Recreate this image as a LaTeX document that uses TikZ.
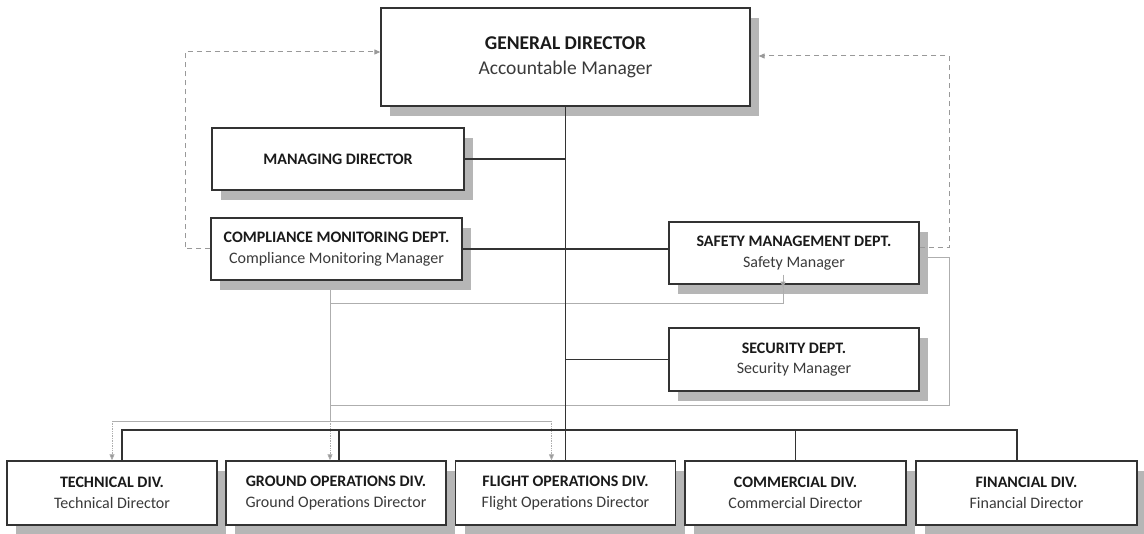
\documentclass[tikz,border=0pt]{standalone}
\usepackage{fontspec}
\setmainfont{Carlito}
\usetikzlibrary{arrows.meta,shadows,calc}
\pgfdeclarelayer{background}
\pgfsetlayers{background,main}
\definecolor{boxc}{HTML}{333333}
\definecolor{shadowc}{HTML}{B6B6B6}
\definecolor{linec}{HTML}{AEAEAE}
\definecolor{dashc}{HTML}{999999}
\definecolor{titlec}{HTML}{1A1A1A}
\definecolor{subc}{HTML}{3A3A3A}
\tikzset{
  box/.style={draw=boxc, line width=1.3pt, fill=white, align=center, inner sep=0pt,
    text=titlec, font=\fontsize{16}{20.5}\selectfont,
    general shadow={fill=shadowc, shadow xshift=9pt, shadow yshift=-10pt}},
  conn/.style={draw=boxc, line width=1.3pt},
  thinline/.style={draw=linec, line width=0.7pt},
  dashline/.style={draw=dashc, line width=1pt, dash pattern=on 5pt off 4pt},
  gtip/.style={-{Triangle[length=6pt,width=5pt,fill=dashc]}},
}
\newcommand{\sub}[1]{\textcolor{subc}{\fontseries{m}\selectfont #1}}
\begin{document}
\begin{tikzpicture}[x=1pt,y=-1pt]
\useasboundingbox (0,0) rectangle (1144,534);
% boxes
\node[box, minimum width=369pt, minimum height=98pt, font=\fontsize{19.5}{25}\selectfont] (GD) at (565.5,57) {\textbf{GENERAL DIRECTOR}\\\sub{Accountable Manager}};
\node[box, minimum width=252pt, minimum height=62pt] (MD) at (338,159) {\textbf{MANAGING DIRECTOR}};
\node[box, minimum width=251pt, minimum height=62pt] (CM) at (336.5,249) {\textbf{COMPLIANCE MONITORING DEPT.}\\\sub{Compliance Monitoring Manager}};
\node[box, minimum width=250pt, minimum height=62pt] (SM) at (794,253) {\textbf{SAFETY MANAGEMENT DEPT.}\\\sub{Safety Manager}};
\node[box, minimum width=250pt, minimum height=63pt] (SE) at (794,359.5) {\textbf{SECURITY DEPT.}\\\sub{Security Manager}};
\node[box, minimum width=210pt, minimum height=64pt] (TE) at (112,493) {\textbf{TECHNICAL DIV.}\\\sub{Technical Director}};
\node[box, minimum width=220pt, minimum height=64pt] (GO) at (336,493) {\textbf{GROUND OPERATIONS DIV.}\\\sub{Ground Operations Director}};
\node[box, minimum width=220pt, minimum height=64pt] (FO) at (565.5,493) {\textbf{FLIGHT OPERATIONS DIV.}\\\sub{Flight Operations Director}};
\node[box, minimum width=221pt, minimum height=64pt] (CO) at (795.5,493) {\textbf{COMMERCIAL DIV.}\\\sub{Commercial Director}};
\node[box, minimum width=221pt, minimum height=64pt] (FI) at (1026.5,493) {\textbf{FINANCIAL DIV.}\\\sub{Financial Director}};
% helper coordinates
\coordinate (bus) at (0,430);
\coordinate (te) at ([xshift=10pt]TE.north);
\coordinate (go) at ([xshift=3pt]GO.north);
\coordinate (fi) at ([xshift=-9.5pt]FI.north);
\coordinate (cmv) at ([xshift=-6.5pt]CM.south);
\coordinate (gov) at ([xshift=-6pt]GO.north);
\coordinate (fov) at ([xshift=-14pt]FO.north);
\coordinate (smv) at ([xshift=-11pt]SM.south);
\coordinate (branch) at (0,303);
\coordinate (loopR) at (949,405);
\coordinate (dist) at (0,421);
\coordinate (lcorner) at (185,52);
\coordinate (rcorner) at (949,56);
% thin grey lines behind boxes
\begin{pgfonlayer}{background}
\draw[thinline] (cmv) -- (cmv |- branch);
\draw[thinline] ([yshift=-4pt]SM.east) -| (loopR) -- (loopR -| cmv);
\end{pgfonlayer}
\draw[thinline] (cmv |- branch) -- (gov |- dist);
\draw[thinline, densely dotted, gtip] (gov |- dist) -- (gov);
\draw[thinline] (cmv |- branch) -| ([yshift=10pt]smv);
\draw[thinline, densely dotted, gtip] ([yshift=10pt]smv) -- ([yshift=-3pt]smv);
\draw[thinline] (dist -| TE.north) -- (dist -| fov);
\draw[thinline, densely dotted, gtip] (dist -| TE.north) -- (TE.north);
\draw[thinline, densely dotted, gtip] (dist -| fov) -- (fov);
% dashed feedback arrows
\draw[dashline, gtip] (CM.west) -| (lcorner) -- ([yshift=5pt]GD.west);
\draw[dashline, gtip] ([yshift=5pt]SM.east) -| (rcorner) -- ([xshift=8pt,yshift=1pt]GD.east);
% black connectors
\draw[conn] (GD.south) -- (GD.south |- FO.north);
\draw[conn] (MD.east) -- (MD.east -| GD.south);
\draw[conn] (CM.east) -- (CM.east -| SM.west);
\draw[conn] (SE.west -| GD.south) -- (SE.west);
\draw[conn] (te) |- (bus -| fi) -- (fi);
\draw[conn] (bus -| go) -- (go);
\draw[conn] (bus -| CO.north) -- (CO.north);
\end{tikzpicture}
\end{document}
